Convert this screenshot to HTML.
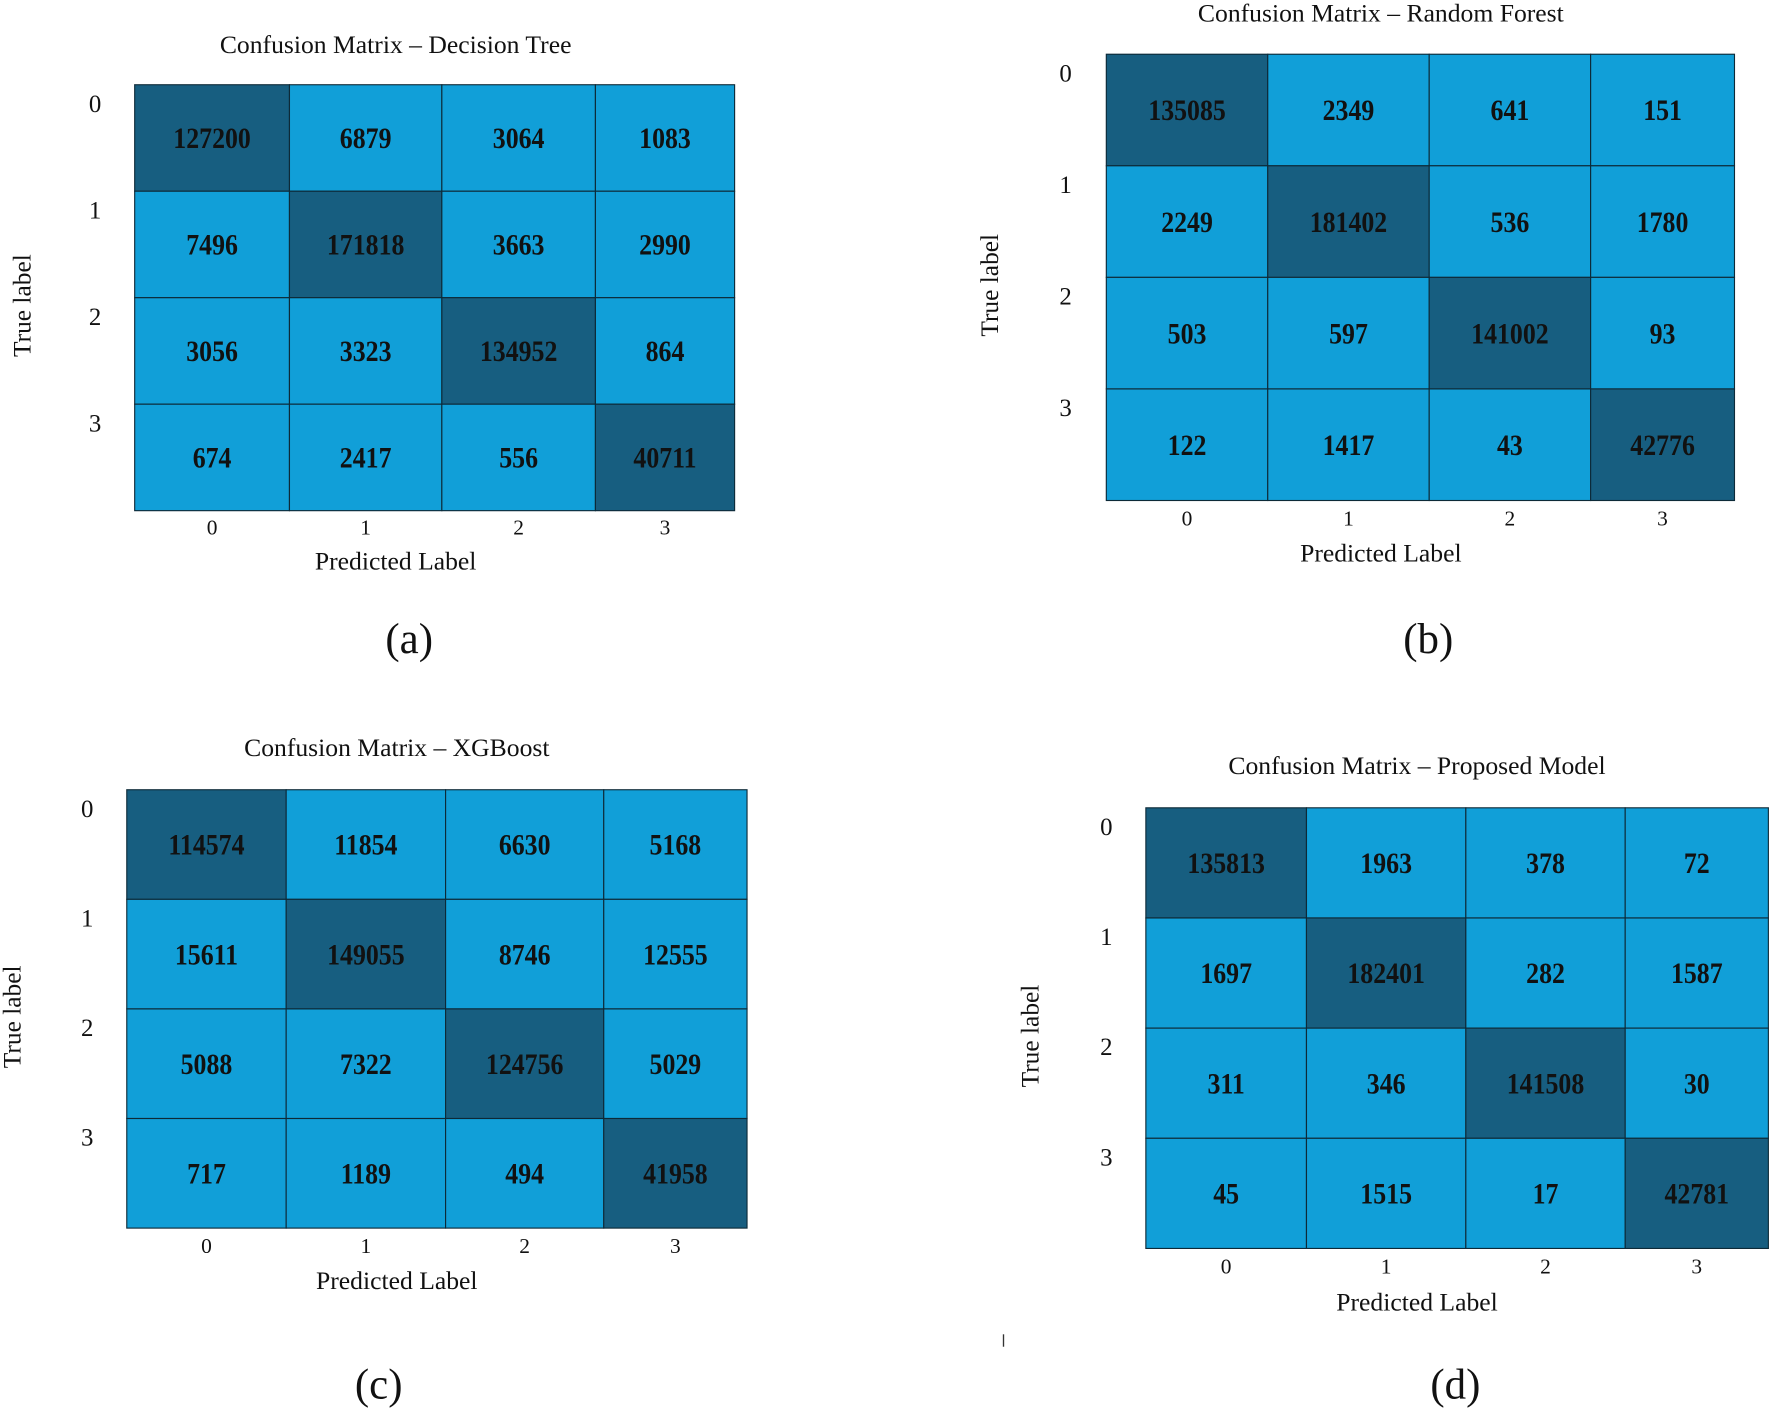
<!DOCTYPE html>
<html><head><meta charset="utf-8"><style>
html,body{margin:0;padding:0;background:#fff;}
svg{display:block;}
text{font-family:"Liberation Serif",serif;fill:#111;}
</style></head><body>
<svg id="fig" width="1772" height="1410" viewBox="0 0 1568 1248" xmlns="http://www.w3.org/2000/svg"></svg>
<script>
const classLabels = ["0","1","2","3"];
const titles = ["Confusion Matrix \u2013 Decision Tree","Confusion Matrix \u2013 Random Forest","Confusion Matrix \u2013 XGBoost","Confusion Matrix \u2013 Proposed Model"];
const captions = ["(a)","(b)","(c)","(d)"];
const valuesDT = [[127200,6879,3064,1083],[7496,171818,3663,2990],[3056,3323,134952,864],[674,2417,556,40711]];
const valuesRF = [[135085,2349,641,151],[2249,181402,536,1780],[503,597,141002,93],[122,1417,43,42776]];
const valuesXGB = [[114574,11854,6630,5168],[15611,149055,8746,12555],[5088,7322,124756,5029],[717,1189,494,41958]];
const valuesPM = [[135813,1963,378,72],[1697,182401,282,1587],[311,346,141508,30],[45,1515,17,42781]];
const allValues = [valuesDT, valuesRF, valuesXGB, valuesPM];

// layout (display units); colFrac = relative column edge fractions
const layouts = [
 {x0:119,x1:650,y0:75,y1:452,colFrac:[0,0.258,0.512,0.768,1],tx:350,ty:47,rlx:84,tlx:20,tky:473,plx:350,ply:504,cx:362,cy:578},
 {x0:979,x1:1535,y0:48,y1:443,colFrac:[0,0.257,0.514,0.771,1],tx:1222,ty:19,rlx:943,tlx:876,tky:465,plx:1222,ply:497,cx:1264,cy:578},
 {x0:112,x1:661,y0:699,y1:1087,colFrac:[0,0.257,0.514,0.769,1],tx:351,ty:669,rlx:77,tlx:11,tky:1109,plx:351,ply:1141,cx:335,cy:1238},
 {x0:1014,x1:1565,y0:715,y1:1105,colFrac:[0,0.258,0.514,0.77,1],tx:1254,ty:685,rlx:979,tlx:912,tky:1127,plx:1254,ply:1160,cx:1288,cy:1238}
];
const NS="http://www.w3.org/2000/svg";
const svg=document.getElementById('fig');
function mk(tag,attrs,parent){const e=document.createElementNS(NS,tag);for(const k in attrs)e.setAttribute(k,attrs[k]);(parent||svg).appendChild(e);return e;}

allValues.forEach((vals,p)=>{
  const L=layouts[p];
  const g=mk('g',{});
  
  
  const n=classLabels.length;
  const W=L.x1-L.x0, ch=(L.y1-L.y0)/n;
  const xs=i=>L.x0+L.colFrac[i]*W, ys=i=>L.y0+i*ch;
  vals.forEach((row,r)=>{
    const tot=row.reduce((a,b)=>a+b,0);
    row.forEach((v,c)=>{
    const cw=xs(c+1)-xs(c);
    const rect=mk('rect',{x:xs(c),y:ys(r),width:cw,height:ch,fill:(v/tot>0.5)?'#175e80':'#119fd8',stroke:'#0d2a38','stroke-width':1},g);
    
    
    const t=mk('text',{x:0,y:0,'text-anchor':'middle','font-size':26,'font-weight':'bold',transform:'translate('+(xs(c)+cw/2)+' '+(ys(r)+ch/2+9)+') scale(0.88 1)'},g);
    
    
    t.textContent=v;
  });});
  classLabels.forEach((lab,i)=>{
    const rl=mk('text',{x:L.rlx,y:ys(i)+24,'text-anchor':'middle','font-size':22},g);
    
    
    rl.textContent=lab;
    const cl=mk('text',{x:(xs(i)+xs(i+1))/2,y:L.tky,'text-anchor':'middle','font-size':19},g);
    
    
    cl.textContent=lab;
  });
  const ti=mk('text',{x:L.tx,y:L.ty,'text-anchor':'middle','font-size':22.7},g);
  
  
  ti.textContent=titles[p];
  const yl=mk('text',{x:L.tlx,y:(L.y0+L.y1)/2,'text-anchor':'middle','font-size':22.5,transform:'rotate(-90 '+(L.tlx+7)+' '+((L.y0+L.y1)/2)+')'},g);
  
  
  yl.textContent='True label';
  const xl=mk('text',{x:L.plx,y:L.ply,'text-anchor':'middle','font-size':22.7},g);
  
  
  xl.textContent='Predicted Label';
  const cap=mk('text',{x:L.cx,y:L.cy,'text-anchor':'middle','font-size':38},g);
  
  
  cap.textContent=captions[p];
});
const mark=mk('line',{x1:888,y1:1181,x2:888,y2:1192,stroke:'#333','stroke-width':1.2});


</script>
</body></html>
